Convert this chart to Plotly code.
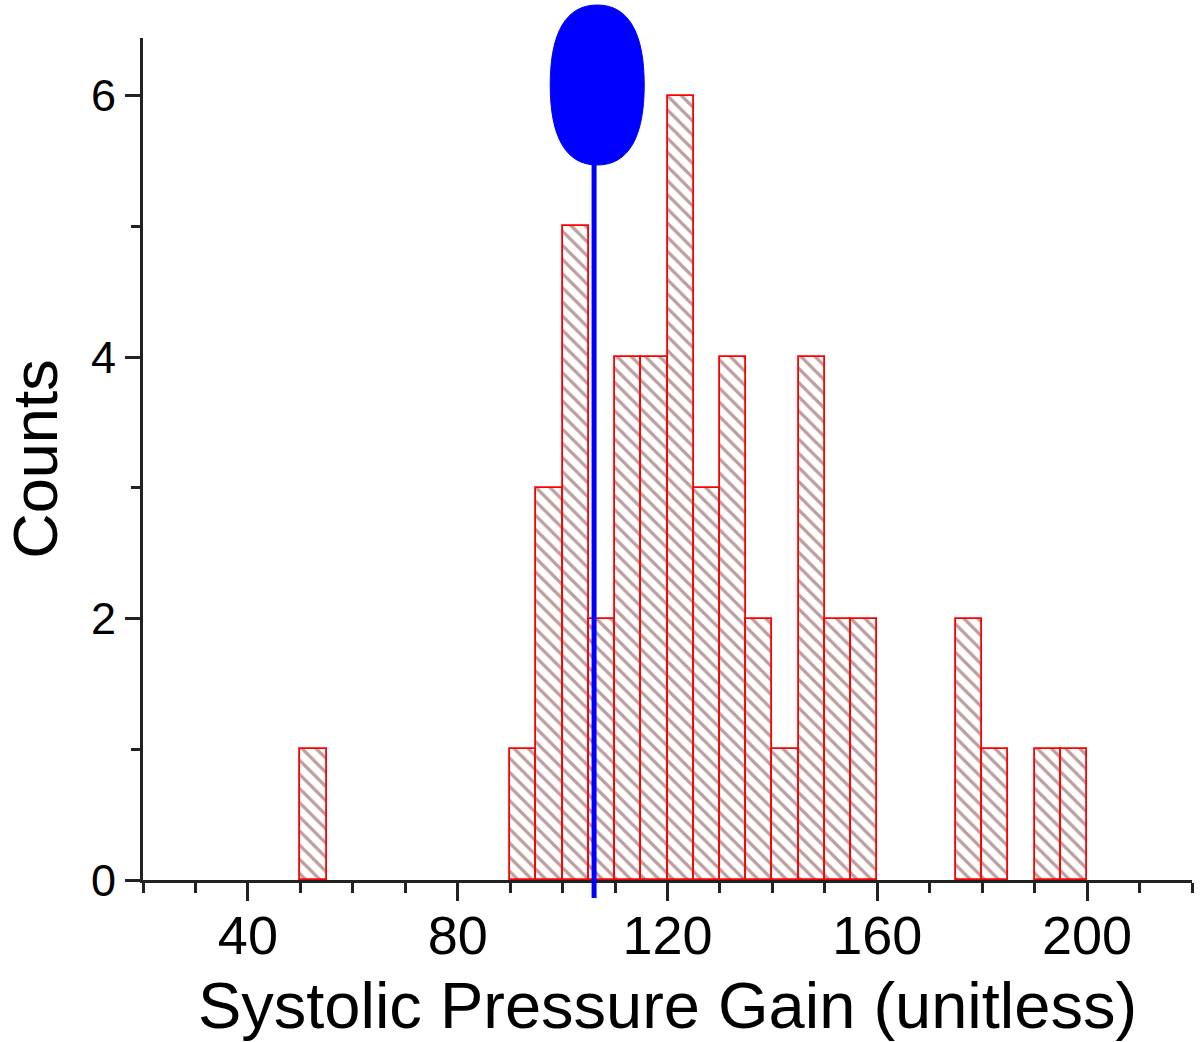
import plotly.graph_objects as go

# Histogram data (bin width 5)
bin_starts = [50, 90, 95, 100, 105, 110, 115, 120, 125, 130, 135, 140, 145, 150, 155, 175, 180, 190, 195]
counts     = [1,  1,  3,  5,   2,   4,   4,   6,   3,   4,   2,   1,   4,   2,   2,   2,   1,   1,   1]
bin_width = 5
marker_value = 106  # blue reference line position

x_title = "Systolic Pressure Gain (unitless)"
y_title = "Counts"

centers = [s + bin_width / 2 for s in bin_starts]

fig = go.Figure()
fig.add_trace(go.Bar(
    x=centers, y=counts, width=bin_width,
    marker=dict(
        color="white",
        line=dict(color="#ff0000", width=1.8),
        pattern=dict(shape="\\", fgcolor="#7e3c3c", bgcolor="white", size=10, solidity=0.32),
    ),
    showlegend=False,
))

# vertical blue line
fig.add_shape(type="line", xref="x", yref="paper", x0=marker_value, x1=marker_value,
              ysizemode="pixel", yanchor=0, y0=-18, y1=760,
              line=dict(color="#0000ff", width=5), layer="above")

# blue rounded head (boxy ellipse) at top of the line
rx, ry, c, k = 47, 80, -47, 0.66
path = (f"M 0,{c+ry} C {k*rx},{c+ry} {rx},{c+k*ry} {rx},{c} "
        f"C {rx},{c-k*ry} {k*rx},{c-ry} 0,{c-ry} "
        f"C {-k*rx},{c-ry} {-rx},{c-k*ry} {-rx},{c} "
        f"C {-rx},{c+k*ry} {-k*rx},{c+ry} 0,{c+ry} Z")
fig.add_shape(type="path", xref="x", yref="paper",
              xsizemode="pixel", xanchor=marker_value + 0.6,
              ysizemode="pixel", yanchor=1,
              path=path, fillcolor="#0000ff", line=dict(color="#0000ff", width=1), layer="above")

font_family = "Liberation Sans, Arial, sans-serif"

fig.update_layout(
    width=1200, height=1042,
    margin=dict(l=143, r=8, t=38, b=162),
    plot_bgcolor="white", paper_bgcolor="white",
    font=dict(family=font_family, color="black"),
    bargap=0,
    xaxis=dict(
        range=[20, 220], showline=True, linecolor="#222", linewidth=3,
        showgrid=False, zeroline=False,
        tickmode="linear", tick0=0, dtick=40,
        ticks="outside", ticklen=18, tickwidth=3, tickcolor="#222",
        ticklabelstandoff=-12,
        tickfont=dict(size=54, family=font_family),
        minor=dict(ticks="outside", ticklen=10, tickwidth=3, tickcolor="#222",
                   tickmode="linear", tick0=0, dtick=10, showgrid=False),
        title=dict(text=x_title, font=dict(size=65, family=font_family), standoff=22),
        automargin=False,
    ),
    yaxis=dict(
        range=[0, 6.44], showline=True, linecolor="#222", linewidth=3,
        showgrid=False, zeroline=False,
        tickmode="linear", tick0=0, dtick=2,
        ticks="outside", ticklen=15, tickwidth=3, tickcolor="#222",
        tickfont=dict(size=45, family=font_family),
        minor=dict(ticks="outside", ticklen=9, tickwidth=3, tickcolor="#222",
                   tickmode="linear", tick0=0, dtick=1, showgrid=False),
        title=dict(text=y_title, font=dict(size=63, family=font_family), standoff=32),
        automargin=False,
    ),
)

fig.write_html("out.html", config={"displayModeBar": False},
               post_script="document.body.style.margin='0';")
